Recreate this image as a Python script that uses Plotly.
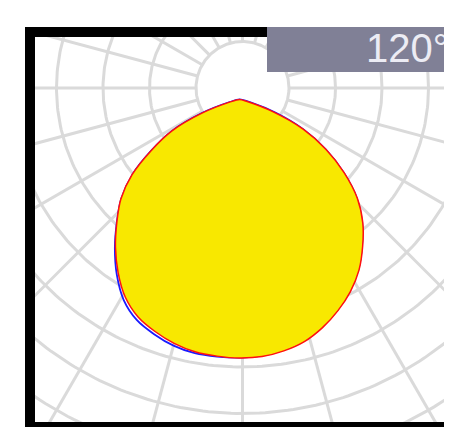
import numpy as np
import plotly.graph_objects as go

# ---- data (luminous intensity, cd) ----
angles_deg = [0, 5, 10, 15, 20, 25, 30, 35, 40, 45, 50, 55, 60, 65, 70, 75, 80, 85, 90]
red_left   = [556, 554, 551, 543, 531, 516, 491, 455, 415, 373, 333, 282, 219, 161, 86, 22, 0, 0, 0]
red_right  = [556, 555, 549, 539, 522, 501, 477, 448, 412, 375, 331, 275, 215, 151, 75, 17, 0, 0, 0]
blue_left  = [555, 555, 554, 548, 537, 523, 498, 460, 417, 373, 332, 281, 218, 160, 86, 22, 0, 0, 0]
blue_right = [555, 553, 547, 537, 520, 499, 475, 446, 410, 373, 329, 273, 214, 151, 82, 26, 0, 0, 0]
grid_radii = [100, 200, 300, 400, 500, 600, 700, 800, 900]
grid_spokes = list(range(0, 360, 15))
beam_label = "120°"

# ---- layout constants (reference page pixels; page body has an 8px margin) ----
OFF = 8
W, H = 452 - OFF, 432 - OFF
LEFT, TOP, RIGHT, BOTTOM = 35, 37, 448, 422      # inner plot area in page px
ML, MT = LEFT - OFF, TOP - OFF
MR, MB = (W + OFF) - RIGHT, (H + OFF) - BOTTOM
PPU = 0.465                       # pixels per cd
CX, CY = 242.5, 88.0              # grid centre (page px)
OX, OY = -3.0 / PPU, -11.5 / PPU  # curve origin offset from grid centre (cd units)

x_range = [(LEFT - CX) / PPU, (RIGHT - CX) / PPU]
y_range = [-(BOTTOM - CY) / PPU, (CY - TOP) / PPU]

GRID = "rgb(218,218,218)"

fig = go.Figure()

# grid circles
cx, cy = [], []
t = np.linspace(0, 2 * np.pi, 361)
for r in grid_radii:
    cx += list(r * np.cos(t)) + [None]
    cy += list(r * np.sin(t)) + [None]
fig.add_trace(go.Scatter(x=cx, y=cy, mode="lines", line=dict(color=GRID, width=3),
                         hoverinfo="skip", showlegend=False))

# radial spokes (start at first circle)
sx, sy = [], []
r0, r1 = grid_radii[0], grid_radii[-1] * 1.2
for a in grid_spokes:
    ar = np.radians(a)
    sx += [r0 * np.sin(ar), r1 * np.sin(ar), None]
    sy += [-r0 * np.cos(ar), -r1 * np.cos(ar), None]
fig.add_trace(go.Scatter(x=sx, y=sy, mode="lines", line=dict(color=GRID, width=3),
                         hoverinfo="skip", showlegend=False))


def curve(left, right):
    th = [-a for a in angles_deg[::-1]] + angles_deg[1:]
    rr = left[::-1] + right[1:]
    pts = []
    for a, r in zip(th, rr):
        ar = np.radians(a)
        p = (OX + r * np.sin(ar), OY - r * np.cos(ar))
        if not pts or abs(p[0] - pts[-1][0]) + abs(p[1] - pts[-1][1]) > 1e-9:
            pts.append(p)
    return [p[0] for p in pts], [p[1] for p in pts]


bx, by = curve(blue_left, blue_right)
fig.add_trace(go.Scatter(x=bx, y=by, mode="lines",
                         line=dict(color="#1a1aff", width=1.8, shape="spline", smoothing=0.8),
                         hoverinfo="skip", showlegend=False))
rx, ry = curve(red_left, red_right)
fig.add_trace(go.Scatter(x=rx, y=ry, mode="lines", fill="toself", fillcolor="rgb(248,232,0)",
                         line=dict(color="#ff1010", width=1.5, shape="spline", smoothing=0.8),
                         hoverinfo="skip", showlegend=False))

pw, ph = RIGHT - LEFT, BOTTOM - TOP


def px_x(x):
    return (x - LEFT) / pw


def px_y(y):
    return (BOTTOM - y) / ph


shapes = []
black = dict(type="rect", xref="paper", yref="paper", fillcolor="black", line=dict(width=0), layer="above")
shapes.append(dict(black, x0=px_x(25), x1=px_x(35), y0=px_y(427), y1=px_y(27)))   # left
shapes.append(dict(black, x0=px_x(25), x1=px_x(452), y0=px_y(37), y1=px_y(27)))   # top
shapes.append(dict(black, x0=px_x(448), x1=px_x(452), y0=px_y(427), y1=px_y(27)))  # right
shapes.append(dict(black, x0=px_x(25), x1=px_x(452), y0=px_y(427), y1=px_y(422)))  # bottom
shapes.append(dict(type="rect", xref="paper", yref="paper", fillcolor="rgb(128,128,150)",
                   line=dict(width=0), layer="above",
                   x0=px_x(267), x1=px_x(452), y0=px_y(72), y1=px_y(27)))

fig.update_layout(
    width=W, height=H,
    margin=dict(l=ML, r=MR, t=MT, b=MB, pad=0),
    paper_bgcolor="white", plot_bgcolor="white",
    xaxis=dict(range=x_range, visible=False, fixedrange=True),
    yaxis=dict(range=y_range, visible=False, fixedrange=True),
    shapes=shapes,
    annotations=[dict(text=beam_label, xref="paper", yref="paper",
                      x=px_x(451), y=px_y(48.5), xanchor="right", yanchor="middle",
                      showarrow=False,
                      font=dict(family="Liberation Sans, Arial", size=40, color="rgb(236,236,244)"))],
    showlegend=False,
)

fig.write_html("out.html", config={"displayModeBar": False})
